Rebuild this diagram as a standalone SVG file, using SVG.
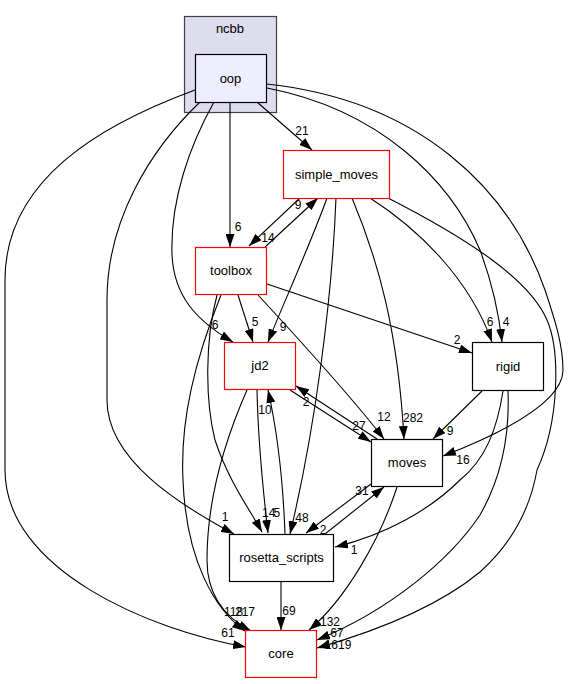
<svg xmlns="http://www.w3.org/2000/svg" width="568" height="684" viewBox="0 0 568 684">
<defs>
<marker id="ah" viewBox="0 0 13 9" markerWidth="13" markerHeight="9" refX="13" refY="4.5" orient="auto" markerUnits="userSpaceOnUse">
<path d="M0,0 L13,4.5 L0,9 z" fill="#000"/>
</marker>
<style>
.e{fill:none;stroke:#000;stroke-width:1.1;marker-end:url(#ah)}
.n{fill:#fff;stroke:#000;stroke-width:1.2}
.r{fill:#fff;stroke:#ff0000;stroke-width:1.2}
.t{font-family:"Liberation Sans",Arial,sans-serif;font-size:13px;text-anchor:middle;fill:#000}
.l{font-family:"Liberation Sans",Arial,sans-serif;font-size:12px;text-anchor:middle;fill:#000}
.ls{font-family:"Liberation Sans",Arial,sans-serif;font-size:12px;text-anchor:start;fill:#000}
</style>
</defs>
<rect width="568" height="684" fill="#fff"/>
<g id="cluster_ncbb">
<rect x="184.5" y="16.5" width="92" height="96" fill="#ddddee" stroke="#404040" stroke-width="1.2"/>
<text class="t" x="230" y="33">ncbb</text>
</g>
<g id="edges">
<path class="e" d="M257,102 L312,150"/>
<text class="l" x="302" y="135">21</text>
<path class="e" d="M230,102 L230,247"/>
<text class="l" x="238" y="231">6</text>
<path class="e" d="M214,102 C190,145 170,200 172,255 C174,295 195,320 233,342"/>
<text class="l" x="215" y="329">6</text>
<path class="e" d="M200,102 C150,150 107,220 107,300 L107,400 C107,460 180,505 234,534"/>
<text class="l" x="225" y="521">1</text>
<path class="e" d="M195,90 C100,125 5,180 5,280 L5,470 C5,570 150,630 246,647"/>
<text class="l" x="228" y="637">61</text>
<path class="e" d="M266,84 C420,100 510,190 545,290 C555,320 563,345 563,370 C563,400 510,430 443,456"/>
<text class="l" x="463" y="464">16</text>
<path class="e" d="M267,88 C380,110 450,180 480,250 C493,285 499,315 502,342"/>
<text class="l" x="506" y="326">4</text>
<path class="e" d="M267,284 L472,353"/>
<text class="l" x="457" y="344">2</text>
<path class="e" d="M265,247 L318,198"/>
<text class="l" x="298" y="209">9</text>
<path class="e" d="M300,198 L249,246"/>
<text class="l" x="268" y="242">14</text>
<path class="e" d="M238,295 L253,342"/>
<text class="l" x="255" y="326">5</text>
<path class="e" d="M327,198 C312,240 285,300 268,342"/>
<text class="l" x="283" y="331">9</text>
<path class="e" d="M258,295 C295,335 350,395 384,439"/>
<text class="l" x="384" y="421">12</text>
<path class="e" d="M352,198 C378,260 398,330 404,439"/>
<text class="l" x="413" y="422">282</text>
<path class="e" d="M336,198 C332,300 315,430 290,534"/>
<text class="l" x="302" y="522">48</text>
<path class="e" d="M370,198 C420,230 470,280 492,342"/>
<text class="l" x="490" y="326">6</text>
<path class="e" d="M388,198 C470,240 530,280 547,320 C560,350 560,420 537,470 C530,510 510,545 480,572 C440,605 380,630 317,648"/>
<text class="l" x="338" y="649">1619</text>
<path class="e" d="M482,391 L433,439"/>
<text class="l" x="450" y="435">9</text>
<path class="e" d="M503,391 C497,430 485,460 460,480 C430,510 385,535 335,547"/>
<text class="l" x="354" y="554">1</text>
<path class="e" d="M508,391 C510,440 500,480 480,515 C450,560 390,610 317,640"/>
<text class="l" x="337" y="637">67</text>
<path class="e" d="M290,390 L371,442"/>
<text class="l" x="359" y="430">27</text>
<path class="e" d="M377,439 L296,386"/>
<text class="l" x="306" y="406">2</text>
<path class="e" d="M257,390 C258,440 263,490 268,533"/>
<text class="ls" x="262" y="517">14</text>
<path class="e" d="M285,534 C283,480 277,430 268,390"/>
<text class="l" x="265" y="414">10</text>
<path class="e" d="M217,295 C205,340 205,400 215,440 C228,480 250,510 262,532"/>
<text class="ls" x="273.5" y="517">5</text>
<path class="e" d="M221,295 C195,360 180,420 183,480 C186,560 215,610 245,631"/>
<text class="ls" x="224" y="616">118</text>
<path class="e" d="M247,390 C225,440 207,500 207,560 C207,600 230,620 251,631"/>
<text class="ls" x="235" y="616">217</text>
<path class="e" d="M281,582 L281,630"/>
<text class="l" x="289" y="615">69</text>
<path class="e" d="M397,487 C380,540 345,600 309,630"/>
<text class="l" x="330" y="626">132</text>
<path class="e" d="M371,484 L306,533"/>
<text class="l" x="323" y="534">2</text>
<path class="e" d="M325,534 L384,487"/>
<text class="l" x="362" y="495">31</text>
</g>
<g id="node_oop">
<rect x="195.5" y="54.5" width="71" height="48" fill="#eeeeff" stroke="#000" stroke-width="1.2"/>
<text class="t" x="230.5" y="83">oop</text>
</g>
<g id="node_simple_moves">
<rect class="r" x="283.5" y="150.5" width="106" height="48"/>
<text class="t" x="336.5" y="179">simple_moves</text>
</g>
<g id="node_toolbox">
<rect class="r" x="195.5" y="247.5" width="71" height="47"/>
<text class="t" x="231" y="275">toolbox</text>
</g>
<g id="node_jd2">
<rect class="r" x="224.5" y="342.5" width="71" height="47"/>
<text class="t" x="260" y="370">jd2</text>
</g>
<g id="node_rigid">
<rect class="n" x="472.5" y="342.5" width="71" height="48"/>
<text class="t" x="508" y="371">rigid</text>
</g>
<g id="node_moves">
<rect class="n" x="371.5" y="439.5" width="71" height="47"/>
<text class="t" x="407" y="467">moves</text>
</g>
<g id="node_rosetta_scripts">
<rect class="n" x="229.5" y="534.5" width="104" height="47"/>
<text class="t" x="281.5" y="562">rosetta_scripts</text>
</g>
<g id="node_core">
<rect class="r" x="245.5" y="630.5" width="71" height="47"/>
<text class="t" x="281" y="658">core</text>
</g>
</svg>
